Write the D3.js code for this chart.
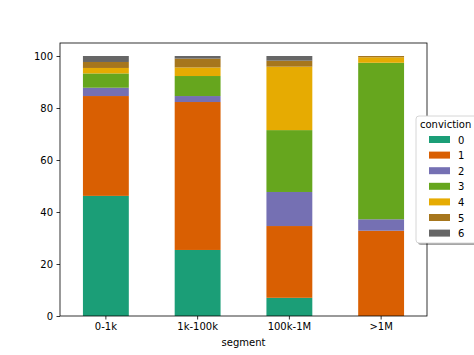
<!DOCTYPE html>
<html><head><meta charset="utf-8">
<script src="https://cdn.jsdelivr.net/npm/d3@7"></script>
<style>body{margin:0;background:#fff}svg{display:block;font-family:"DejaVu Sans",sans-serif}</style>
</head><body><svg id="c" width="474" height="355"></svg>
<script>
const categories = ["0-1k", "1k-100k", "100k-1M", ">1M"];
const convictions = ["0", "1", "2", "3", "4", "5", "6"];
const s0 = [46.2, 25.4, 7.0, 0.0];
const s1 = [38.4, 56.9, 27.6, 32.8];
const s2 = [3.2, 2.3, 13.1, 4.4];
const s3 = [5.5, 7.7, 23.8, 60.2];
const s4 = [2.1, 3.3, 24.4, 2.1];
const s5 = [2.3, 3.4, 2.3, 0.5];
const s6 = [2.3, 1.0, 1.8, 0.0];
const yTicks = [0, 20, 40, 60, 80, 100];
const colors = ["#1b9e77", "#d95f02", "#7570b3", "#66a61e", "#e6ab02", "#a6761d", "#666666"];

const series = [s0, s1, s2, s3, s4, s5, s6];
const rows = categories.map((c, i) => {
  const r = {segment: c};
  convictions.forEach((k, j) => r[k] = series[j][i]);
  return r;
});
const stack = d3.stack().keys(convictions)(rows);

const svg = d3.select("#c");
const L = 60, R = 427, T = 43, B = 316;
const x = d3.scaleBand().domain(categories).range([L, R]).paddingInner(0.5).paddingOuter(0.25);
const y = d3.scaleLinear().domain([0, 105]).range([B, T]);

svg.append("g").selectAll("g").data(stack).join("g")
  .attr("fill", (d, i) => colors[i])
  .selectAll("rect").data(d => d).join("rect")
  .attr("x", d => x(d.data.segment))
  .attr("width", x.bandwidth())
  .attr("y", d => y(d[1]))
  .attr("height", d => y(d[0]) - y(d[1]));

// axes frame
svg.append("rect").attr("x", L).attr("y", T).attr("width", R - L).attr("height", B - T)
  .attr("fill", "none").attr("stroke", "#000").attr("stroke-width", 0.8);

const xa = svg.append("g").attr("transform", `translate(0,${B})`)
  .call(d3.axisBottom(x).tickSize(3.5).tickPadding(3.5));
const ya = svg.append("g").attr("transform", `translate(${L},0)`)
  .call(d3.axisLeft(y).tickValues(yTicks).tickSize(3.5).tickPadding(3.5));
[xa, ya].forEach(a => {
  a.select(".domain").remove();
  a.selectAll("line").attr("stroke", "#000").attr("stroke-width", 0.8);
  a.selectAll("text").attr("font-size", 10).attr("fill", "#000").attr("font-family", "DejaVu Sans");
});

svg.append("text").attr("x", (L + R) / 2).attr("y", 346).attr("text-anchor", "middle")
  .attr("font-size", 10).text("segment");

// legend
const lx = 416, ly = 116, lw = 70, lh = 127;
svg.append("rect").attr("x", lx + 2).attr("y", ly + 2).attr("width", lw).attr("height", lh)
  .attr("rx", 3).attr("fill", "#000").attr("opacity", 0.35);
svg.append("rect").attr("x", lx).attr("y", ly).attr("width", lw).attr("height", lh)
  .attr("rx", 3).attr("fill", "#fff").attr("stroke", "#ccc").attr("stroke-width", 0.8);
svg.append("text").attr("x", lx + 4).attr("y", ly + 12).attr("font-size", 10).text("conviction");
const lg = svg.append("g").selectAll("g").data(convictions).join("g")
  .attr("transform", (d, i) => `translate(${lx + 13},${ly + 20 + i * 15.6})`);
lg.append("rect").attr("width", 21).attr("height", 7).attr("fill", (d, i) => colors[i]);
lg.append("text").attr("x", 29).attr("y", 7.5).attr("font-size", 10).text(d => d);
</script></body></html>
